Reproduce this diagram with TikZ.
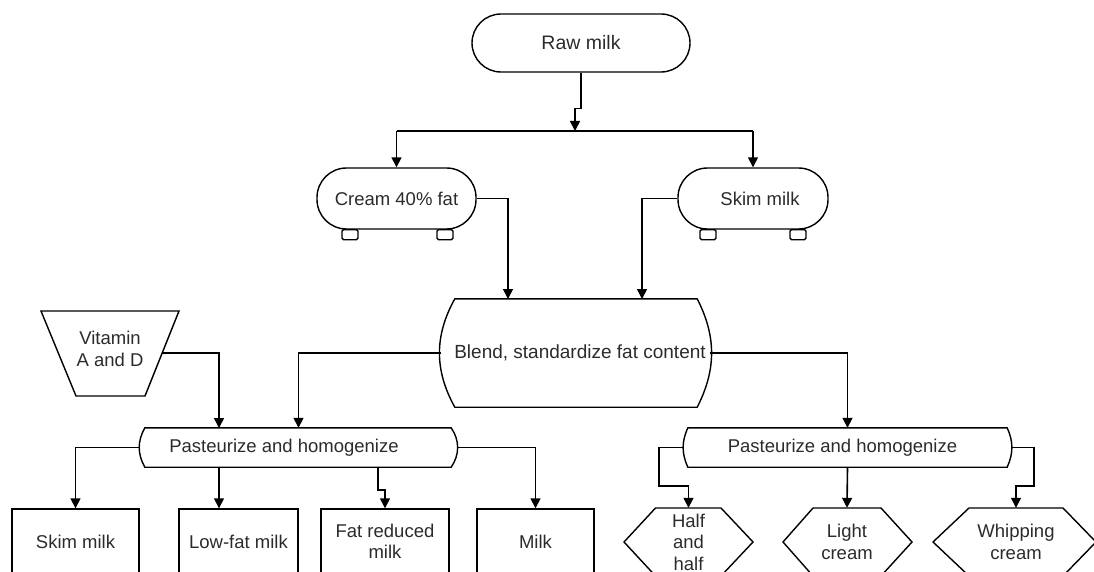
\documentclass[tikz,border=0pt]{standalone}
\usepackage{fontspec}
\setmainfont{Liberation Sans}
\usetikzlibrary{arrows.meta,calc}
\definecolor{txt}{HTML}{2B2B2B}
\begin{document}
\begin{tikzpicture}[x=1pt,y=-1pt,
  every node/.style={font=\fontsize{18.5}{21.5}\selectfont, text=txt, align=center, inner sep=0pt},
  shp/.style={draw=black, line width=1.4pt},
  arr/.style={draw=black, line width=1.6pt, -{Triangle[length=10pt,width=10pt]}},
  ln/.style={draw=black, line width=1.6pt},
  tank/.style={shp, rounded corners=29.5pt, minimum height=61pt},
  prodbox/.style={shp, minimum height=65pt},
  leg/.style={shp, rounded corners=1.5pt},
]
\useasboundingbox (0,0) rectangle (1094,572);
\clip (0,0) rectangle (1094,572);

% Raw milk
\node[shp, rounded corners=29pt, minimum width=218pt, minimum height=58pt,
      font=\fontsize{19.5}{22}\selectfont] (raw) at (581,43) {Raw milk};

% tanks
\node[tank, minimum width=159pt] (cream) at (396.5,198.5) {Cream 40\% fat};
\draw[leg] ($(cream.south)+(-54.5,0)$) rectangle ++(16,10);
\draw[leg] ($(cream.south)+(40.5,0)$) rectangle ++(16,10);
\node[tank, minimum width=150pt] (skim) at (753,198.5) {\hspace*{14pt}Skim milk};
\draw[leg] ($(skim.south)+(-53,0)$) rectangle ++(16,10);
\draw[leg] ($(skim.south)+(37,0)$) rectangle ++(16,10);

% blend
\node[minimum width=269pt, minimum height=108pt, font=\fontsize{19}{22}\selectfont]
  (blend) at (575.5,353) {\hspace*{9pt}Blend, standardize fat content};
\draw[shp] ($(blend.north west)+(14,0)$) -- ($(blend.north east)+(-13,0)$)
  to[bend left=27] ($(blend.south east)+(-13,0)$)
  -- ($(blend.south west)+(14,0)$)
  to[bend left=29] ($(blend.north west)+(14,0)$) -- cycle;

% vitamin
\node (vit) at (110,349) {Vitamin\\A and D};
\draw[shp] ($(vit)+(-69,-38)$) -- ($(vit)+(69,-38)$) -- ($(vit)+(35,47)$)
  -- ($(vit)+(-34,47)$) -- cycle;
\coordinate (vitout) at (162,353);

% pasteurize left
\node[minimum width=317pt, minimum height=39pt] (pl) at (298.5,447.5)
  {\hspace*{-29pt}Pasteurize and homogenize};
\draw[shp] ($(pl.north west)+(5,0)$) -- ($(pl.north east)+(-6,0)$)
  to[bend left=34] ($(pl.south east)+(-6,0)$)
  -- ($(pl.south west)+(5,0)$)
  to[bend left=29] ($(pl.north west)+(5,0)$) -- cycle;

% pasteurize right
\node[minimum width=327pt, minimum height=39pt] (pr) at (847.5,447.5)
  {\hspace*{-10pt}Pasteurize and homogenize};
\draw[shp] ($(pr.north west)+(4,0)$) -- ($(pr.north east)+(-4,0)$)
  to[bend left=24] ($(pr.south east)+(-4,0)$)
  -- ($(pr.south west)+(4,0)$)
  to[bend left=24] ($(pr.north west)+(4,0)$) -- cycle;

% products left
\node[prodbox, minimum width=127pt] (b1) at (75.5,541.5) {Skim milk};
\node[prodbox, minimum width=119pt] (b2) at (238.5,541.5) {Low-fat milk};
\node[prodbox, minimum width=128pt] (b3) at (385,541.5) {Fat reduced\\milk};
\node[prodbox, minimum width=117pt] (b4) at (535.5,541.5) {Milk};

% products right (hexagons)
\node[minimum height=68pt] (h1) at (688.5,542) {Half\\and\\half};
\draw[shp] ($(h1)+(-33,-34)$) -- ($(h1)+(32.5,-34)$) -- ($(h1)+(64.5,0)$)
  -- ($(h1)+(32.5,34)$) -- ($(h1)+(-33,34)$) -- ($(h1)+(-64.5,0)$) -- cycle;
\node[minimum height=68pt] (h2) at (847,542) {Light\\cream};
\draw[shp] ($(h2)+(-34,-34)$) -- ($(h2)+(34,-34)$) -- ($(h2)+(65,0)$)
  -- ($(h2)+(34,34)$) -- ($(h2)+(-34,34)$) -- ($(h2)+(-64,0)$) -- cycle;
\node[minimum height=68pt] (h3) at (1016,542) {Whipping\\cream};
\draw[shp] ($(h3)+(-47,-34)$) -- ($(h3)+(47,-34)$) -- ($(h3)+(80,0)$)
  -- ($(h3)+(47,34)$) -- ($(h3)+(-47,34)$) -- ($(h3)+(-83,0)$) -- cycle;

% connectors
\coordinate (split) at (575,131);
\draw[arr] (raw.south) -- ++(0,36) -| (split);
\draw[ln] (cream.north |- split) -- (skim.north |- split);
\draw[arr] (cream.north |- split) -- (cream.north);
\draw[arr] (skim.north |- split) -- (skim.north);

\coordinate (bin1) at (508,299);
\coordinate (bin2) at (642,299);
\draw[arr] (cream.east) -| (bin1);
\draw[arr] (skim.west) -| (bin2);

\draw[arr] (blend.west) -| (pl.north);
\draw[arr] (blend.east) -| (pr.north);
\coordinate (vin) at (219,428);
\draw[arr] (vitout) -| (vin);

\coordinate (o2) at (219,467);
\coordinate (o3) at (378,467);
\draw[arr] (pl.west) -| (b1.north);
\draw[arr] (o2) -- (o2 |- b2.north);
\draw[arr] (o3) -- ++(0,23) -| (b3.north);
\draw[arr] (pl.east) -| (b4.north);

\draw[arr] (pr.west) -- ++(-25,0) -- ++(0,38.5) -| (h1.north);
\draw[arr] (pr.south) -- (h2.north);
\draw[arr] (pr.east) -- ++(23,0) -- ++(0,38.5) -| (h3.north);
\end{tikzpicture}
\end{document}
